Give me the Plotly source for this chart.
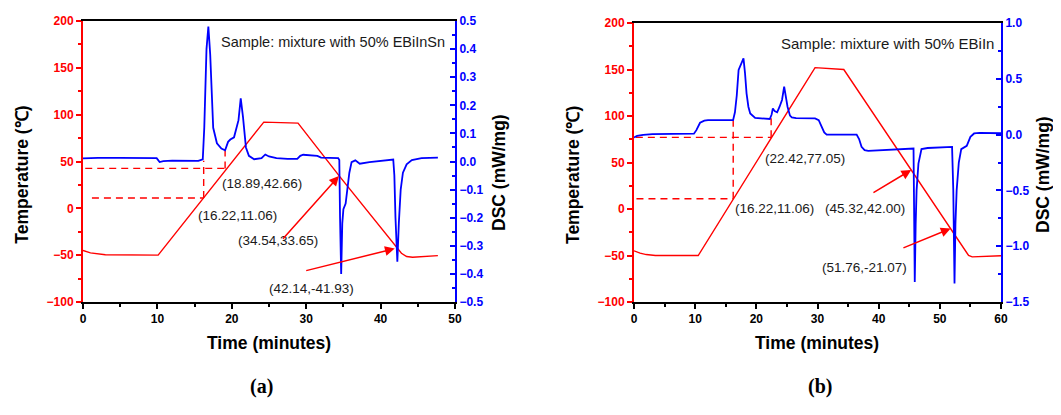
import plotly.graph_objects as go

# The page body adds an 8 px margin, so the figure is 8 px smaller and
# all screen positions below are shifted by that offset.
OFF = 8
W, H = 1061 - OFF, 415 - OFF

# ---------------- Panel (a): mixture with 50% EBiInSn ----------------
a_temp_t = [0, 1, 3, 10.1, 24.3, 28.9, 34.54, 42.14, 42.8, 43.5, 44.3, 47.7]
a_temp_v = [-45, -47.5, -49.5, -50, 92, 91, 33.65, -41.93, -48, -51.5, -52.2, -50.5]

a_dsc_t = [0, 2, 5, 7, 9.9, 10.3, 10.8, 12, 15.5, 16.1,
           16.3, 16.6, 16.85, 17.1, 17.5, 18.0, 18.6, 19.1, 19.5, 19.8,
           20.3, 20.9, 21.2, 21.5, 21.9, 22.3, 23.0, 24.0, 24.5, 25.0,
           26.0, 27.5, 28.8, 29.2, 29.6, 31.5, 32.0, 34.3, 34.45, 34.55,
           34.7, 34.85, 35.0, 35.3, 35.5, 35.8, 36.1, 36.6, 37.2, 38.5,
           41.7, 41.85, 42.0, 42.25, 42.45, 42.7, 43.0, 43.5, 44.2, 45.5,
           47.7]
a_dsc_v = [0.011, 0.013, 0.013, 0.012, 0.012, -0.002, 0.001, 0.003, 0.002, 0.008,
           0.12, 0.40, 0.48, 0.38, 0.12, 0.065, 0.046, 0.040, 0.07, 0.078,
           0.086, 0.147, 0.225, 0.16, 0.05, 0.02, 0.008, 0.012, 0.025, 0.018,
           0.012, 0.009, 0.009, 0.02, 0.024, 0.02, 0.014, 0.012, 0.005, -0.2,
           -0.40, -0.22, -0.17, -0.15, -0.10, -0.04, -0.002, 0.004, -0.008, -0.002,
           0.007, -0.05, -0.2, -0.357, -0.22, -0.10, -0.04, -0.01, 0.005, 0.012,
           0.014]

# dashed guide lines (time, temperature) segments
a_guide_t = [0.3, 19.1, None, 1.2, 16.22, None, 16.22, 16.22, None, 19.1, 19.1]
a_guide_v = [42.66, 42.66, None, 11.06, 11.06, None, 11.06, 50.8, None, 42.66, 62]

a_labels = ["(18.89,42.66)", "(16.22,11.06)", "(34.54,33.65)", "(42.14,-41.93)"]
a_label_t = [24.06, 20.7, 26.2, 30.7]
a_label_v = [26.9, -7.3, -34.8, -85.3]
a_arrow_tip = [(34.4, 34.5), (41.9, -43.0)]
a_arrow_tail = [(26.7, -34.0), (29.8, -66.9)]

# ---------------- Panel (b): mixture with 50% EBiIn ----------------
b_temp_t = [0, 1, 2, 3.5, 10.5, 29.6, 34.3, 54.7, 55.3, 56.5, 60]
b_temp_v = [-45, -47.5, -49, -50, -50, 152, 150, -50, -51.5, -51.3, -50.3]

b_dsc_t = [0, 0.5, 1.5, 3, 9.8, 10.2, 10.8, 11.5, 12.1, 16.2,
           16.5, 16.8, 17.1, 17.4, 17.6, 17.9, 18.15, 18.4, 18.7, 19.0,
           19.8, 22.2, 22.5, 22.7, 23.0, 23.4, 23.8, 24.2, 24.55, 24.8,
           25.1, 25.5, 25.8, 26.5, 29.6, 30.2, 30.7, 31.1, 31.5, 36.4,
           36.8, 37.2, 37.7, 38.3, 45.7, 45.8, 45.9, 46.05, 46.2, 46.5,
           47.0, 48.0, 52.0, 52.2, 52.4, 52.55, 52.75, 53.1, 53.5, 54.4,
           55.0, 55.6, 56.5, 60]
b_dsc_v = [-0.025, -0.012, -0.003, 0.005, 0.008, 0.04, 0.106, 0.125, 0.13, 0.13,
           0.2, 0.35, 0.58, 0.62, 0.63, 0.683, 0.55, 0.37, 0.25, 0.19,
           0.15, 0.14, 0.18, 0.235, 0.21, 0.2, 0.25, 0.31, 0.43, 0.35,
           0.25, 0.17, 0.155, 0.148, 0.145, 0.13, 0.07, 0.02, 0.0, 0.0,
           -0.04, -0.11, -0.14, -0.145, -0.125, -0.5, -1.32, -0.8, -0.5, -0.26,
           -0.13, -0.12, -0.11, -0.5, -1.335, -0.8, -0.5, -0.25, -0.13, -0.1,
           -0.02, 0.01, 0.016, 0.012]

b_guide_t = [0.3, 22.42, None, 0.4, 16.22, None, 16.22, 16.22, None, 22.42, 22.42]
b_guide_v = [77.05, 77.05, None, 11.06, 11.06, None, 11.06, 95, None, 77.05, 98]

b_labels = ["(22.42,77.05)", "(16.22,11.06)", "(45.32,42.00)", "(51.76,-21.07)"]
b_label_t = [27.9, 23.0, 37.8, 37.7]
b_label_v = [54.7, 0.9, 0.9, -62.6]
b_arrow_tip = [(45.32, 42.0), (51.76, -21.07)]
b_arrow_tail = [(38.9, 16.7), (43.8, -42.5)]

RED = "#ff0000"
BLUE = "#0000ff"
FONT = "Arial, 'Liberation Sans', sans-serif"
TXT = "#1a1a1a"


def px(x):
    return (x - OFF) / W


def py(y):
    return 1 - (y - OFF) / H


fig = go.Figure()


def add_panel(xa, ya, yb, tt, tv, gt, gv, dt, dv):
    fig.add_trace(go.Scatter(x=tt, y=tv, mode="lines", line=dict(color=RED, width=1.4),
                             xaxis=xa, yaxis=ya, showlegend=False, hoverinfo="skip"))
    fig.add_trace(go.Scatter(x=gt, y=gv, mode="lines", connectgaps=False,
                             line=dict(color=RED, width=1.4, dash="7px,5px"),
                             xaxis=xa, yaxis=ya, showlegend=False, hoverinfo="skip"))
    fig.add_trace(go.Scatter(x=dt, y=dv, mode="lines", line=dict(color=BLUE, width=1.8),
                             xaxis=xa, yaxis=yb, showlegend=False, hoverinfo="skip"))


add_panel("x", "y", "y2", a_temp_t, a_temp_v, a_guide_t, a_guide_v, a_dsc_t, a_dsc_v)
add_panel("x2", "y3", "y4", b_temp_t, b_temp_v, b_guide_t, b_guide_v, b_dsc_t, b_dsc_v)


def xaxis_cfg(dom, rng, anchor):
    return dict(domain=dom, range=rng, anchor=anchor, showline=True, linecolor="black",
                linewidth=2, mirror=True, ticks="outside", ticklen=5, tickwidth=1.5,
                tickcolor="black", dtick=10, showgrid=False, zeroline=False, automargin=False,
                tickfont=dict(family=FONT, size=12, color="black", weight="bold"),
                minor=dict(ticks="outside", ticklen=3, tickwidth=1.5, tickcolor="black", dtick=5))


def temp_cfg(dom, anchor):
    return dict(domain=dom, range=[-100, 200], anchor=anchor, side="left", showline=True,
                linecolor=RED, linewidth=2, ticks="outside", ticklen=5, tickwidth=1.5,
                tickcolor=RED, dtick=50, showgrid=False, zeroline=False, automargin=False,
                tickfont=dict(family=FONT, size=12, color=RED, weight="bold"),
                minor=dict(ticks="outside", ticklen=3, tickwidth=1.5, tickcolor=RED, dtick=25))


def dsc_cfg(over, anchor, rng, dt, mdt):
    return dict(overlaying=over, anchor=anchor, side="right", range=rng, showline=True,
                linecolor=BLUE, linewidth=2, ticks="inside", ticklen=5, tickwidth=1.5,
                tickcolor=BLUE, dtick=dt, tickformat=".1f", showgrid=False, zeroline=False,
                automargin=False,
                tickfont=dict(family=FONT, size=12, color=BLUE, weight="bold"),
                minor=dict(ticks="inside", ticklen=3, tickwidth=1.5, tickcolor=BLUE, dtick=mdt))


ya_dom = [py(302), py(21)]
yb_dom = [py(302), py(23)]

annotations = []


def txt(x, y, s, size, xanchor="center", xref="paper", yref="paper", angle=0, bold=False,
        family=FONT, color=TXT):
    annotations.append(dict(x=x, y=y, xref=xref, yref=yref, text=s, showarrow=False,
                            xanchor=xanchor, yanchor="middle", textangle=angle,
                            font=dict(family=family, size=size, color=color,
                                      weight="bold" if bold else "normal")))


# sample texts
txt(48.9, 177.6, "Sample: mixture with 50% EBiInSn", 14.5, xanchor="right", xref="x", yref="y")
txt(59.1, 178.5, "Sample: mixture with 50% EBiIn", 15, xanchor="right", xref="x2", yref="y3")

for s, t, v in zip(a_labels, a_label_t, a_label_v):
    txt(t, v, s, 13.5, xref="x", yref="y")
for s, t, v in zip(b_labels, b_label_t, b_label_v):
    txt(t, v, s, 13.5, xref="x2", yref="y3")


def arrow(tip, tail, xr, yr):
    annotations.append(dict(x=tip[0], y=tip[1], ax=tail[0], ay=tail[1], xref=xr, yref=yr,
                            axref=xr, ayref=yr, text="", showarrow=True, arrowhead=2,
                            arrowsize=1.3, arrowwidth=1.5, arrowcolor=RED, standoff=0))


for tp, tl in zip(a_arrow_tip, a_arrow_tail):
    arrow(tp, tl, "x", "y")
for tp, tl in zip(b_arrow_tip, b_arrow_tail):
    arrow(tp, tl, "x2", "y3")

# axis titles
txt(px(21.7), py(175), "Temperature (\u2103)", 17.5, angle=-90, bold=True, color="black")
txt(px(499), py(173), "DSC (mW/mg)", 17.5, angle=-90, bold=True, color="black")
txt(px(269), py(343), "Time (minutes)", 17.5, bold=True, color="black")
txt(px(573), py(175), "Temperature (\u2103)", 17.5, angle=-90, bold=True, color="black")
txt(px(1043), py(175), "DSC (mW/mg)", 17.5, angle=-90, bold=True, color="black")
txt(px(817), py(343), "Time (minutes)", 17.5, bold=True, color="black")

# panel letters
SERIF = "'Liberation Serif', 'DejaVu Serif', serif"
txt(px(261), py(386), "(a)", 20, bold=True, family=SERIF, color="black")
txt(px(820), py(386), "(b)", 20, bold=True, family=SERIF, color="black")

fig.update_layout(
    width=W, height=H,
    margin=dict(l=0, r=0, t=0, b=0),
    paper_bgcolor="white", plot_bgcolor="white",
    showlegend=False,
    xaxis=xaxis_cfg([px(83), px(455)], [0, 50], "y"),
    yaxis=temp_cfg(ya_dom, "x"),
    yaxis2=dsc_cfg("y", "x", [-0.5, 0.5], 0.1, 0.05),
    xaxis2=xaxis_cfg([px(634), px(1001)], [0, 60], "y3"),
    yaxis3=temp_cfg(yb_dom, "x2"),
    yaxis4=dsc_cfg("y3", "x2", [-1.5, 1.0], 0.5, 0.25),
    annotations=annotations,
)

fig.write_html("out.html")
